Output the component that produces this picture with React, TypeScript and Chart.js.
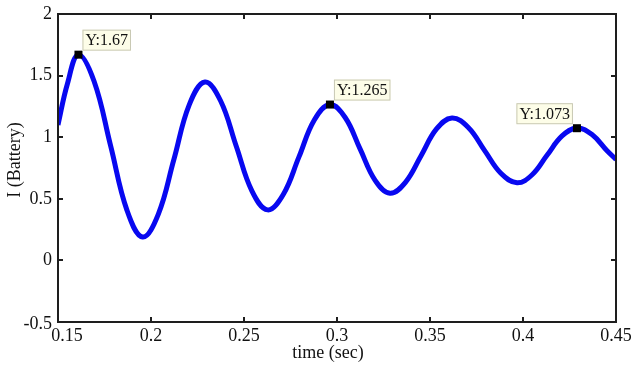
import React, { useEffect, useRef } from "react";
import { Chart, registerables } from "chart.js";

Chart.register(...registerables);

const timeSec = [
  0.15, 0.155, 0.161, 0.1694, 0.1783, 0.1871, 0.1955, 0.2039, 0.2123, 0.2206,
  0.229, 0.2374, 0.2458, 0.2543, 0.2627, 0.2711, 0.2795, 0.2878, 0.2962, 0.3044,
  0.3124, 0.3205, 0.3285, 0.3368, 0.3452, 0.3535, 0.3618, 0.3706, 0.3793, 0.3881,
  0.3968, 0.4049, 0.4129, 0.421, 0.429, 0.4371, 0.4452, 0.45,
];
const batteryCurrent = [
  1.1, 1.43, 1.67, 1.454, 0.93, 0.406, 0.19, 0.374, 0.819, 1.264,
  1.448, 1.296, 0.929, 0.562, 0.41, 0.535, 0.838, 1.14, 1.265, 1.16,
  0.905, 0.65, 0.545, 0.634, 0.85, 1.067, 1.156, 1.079, 0.893, 0.707,
  0.63, 0.695, 0.853, 1.01, 1.075, 1.021, 0.89, 0.82,
];

const xTicks = [0.15, 0.2, 0.25, 0.3, 0.35, 0.4, 0.45];
const xTickLabels = ["0.15", "0.2", "0.25", "0.3", "0.35", "0.4", "0.45"];
const yTicks = [-0.5, 0, 0.5, 1, 1.5, 2];
const yTickLabels = ["-0.5", "0", "0.5", "1", "1.5", "2"];

const tipX = [0.161, 0.2962, 0.429];
const tipY = [1.67, 1.265, 1.073];
const tipLabels = ["Y:1.67", "Y:1.265", "Y:1.073"];
const tipSide = ["right", "right", "left"];

const xTitle = "time (sec)";
const yTitle = "I (Battery)";

const SERIF = "'Liberation Serif', 'DejaVu Serif', serif";

const decorPlugin = {
  id: "decor",
  afterDatasetsDraw(chart: any) {
    const { ctx, chartArea: a, scales } = chart;
    const xs = scales.x;
    const ys = scales.y;
    ctx.save();
    ctx.strokeStyle = "#1e1e1e";
    ctx.lineWidth = 2;
    ctx.strokeRect(a.left, a.top, a.right - a.left, a.bottom - a.top);
    const tl = 5;
    ctx.beginPath();
    xTicks.forEach((v) => {
      const px = Math.round(xs.getPixelForValue(v));
      ctx.moveTo(px, a.bottom);
      ctx.lineTo(px, a.bottom - tl);
      ctx.moveTo(px, a.top);
      ctx.lineTo(px, a.top + tl);
    });
    yTicks.forEach((v) => {
      const py = Math.round(ys.getPixelForValue(v));
      ctx.moveTo(a.left, py);
      ctx.lineTo(a.left + tl, py);
      ctx.moveTo(a.right, py);
      ctx.lineTo(a.right - tl, py);
    });
    ctx.stroke();

    ctx.fillStyle = "#111";
    ctx.font = `18px ${SERIF}`;
    ctx.textBaseline = "middle";
    ctx.textAlign = "right";
    yTicks.forEach((v, i) => {
      const py = ys.getPixelForValue(v);
      ctx.fillText(yTickLabels[i], a.left - 6, i === 0 ? py + 2 : py);
    });
    ctx.textAlign = "center";
    ctx.textBaseline = "top";
    xTicks.forEach((v, i) => {
      let px = xs.getPixelForValue(v);
      if (i === 0) px += 9;
      ctx.fillText(xTickLabels[i], px, a.bottom + 5);
    });

    ctx.font = `18px ${SERIF}`;
    ctx.textBaseline = "middle";
    ctx.textAlign = "center";
    ctx.fillText(xTitle, 328, 353);
    ctx.save();
    ctx.translate(15, 160);
    ctx.rotate(-Math.PI / 2);
    ctx.fillText(yTitle, 0, 0);
    ctx.restore();
    ctx.restore();
  },
  afterDraw(chart: any) {
    const { ctx, scales } = chart;
    const xs = scales.x;
    const ys = scales.y;
    ctx.save();
    tipX.forEach((v, i) => {
      const px = xs.getPixelForValue(v);
      const py = ys.getPixelForValue(tipY[i]);
      ctx.fillStyle = "#000";
      ctx.fillRect(px - 4, py - 4, 8, 8);
      ctx.font = `16px ${SERIF}`;
      const w = ctx.measureText(tipLabels[i]).width + 6;
      const h = 21;
      const bx = tipSide[i] === "right" ? px + 4 : px - 4 - w;
      const by = py - 4 - h;
      ctx.fillStyle = "#fdfde8";
      ctx.fillRect(bx, by, w, h);
      ctx.strokeStyle = "#c9c9b4";
      ctx.lineWidth = 1;
      ctx.strokeRect(bx + 0.5, by + 0.5, w - 1, h - 1);
      ctx.fillStyle = "#111";
      ctx.textAlign = "left";
      ctx.textBaseline = "middle";
      ctx.fillText(tipLabels[i], bx + 3, by + h / 2 + 1);
    });
    ctx.restore();
  },
};

export default function App() {
  const canvasRef = useRef<HTMLCanvasElement | null>(null);

  useEffect(() => {
    document.body.style.margin = "0";
    const canvas = canvasRef.current;
    if (!canvas) return;
    const chart = new Chart(canvas, {
      type: "line",
      data: {
        datasets: [
          {
            data: timeSec.map((t, i) => ({ x: t, y: batteryCurrent[i] })),
            borderColor: "#0808f0",
            borderWidth: 5,
            pointRadius: 0,
            fill: false,
            tension: 0.4,
          },
        ],
      },
      options: {
        animation: false,
        responsive: false,
        devicePixelRatio: 1,
        layout: { padding: { top: 14, right: 24, left: 0, bottom: 0 } },
        plugins: {
          legend: { display: false },
          tooltip: { enabled: false },
        },
        events: [],
        scales: {
          x: {
            type: "linear",
            min: 0.15,
            max: 0.45,
            ticks: { display: false, stepSize: 0.05 },
            grid: { display: false },
            border: { display: false },
            afterFit: (s: any) => {
              s.height = 54;
            },
          },
          y: {
            type: "linear",
            min: -0.5,
            max: 2,
            ticks: { display: false, stepSize: 0.5 },
            grid: { display: false },
            border: { display: false },
            afterFit: (s: any) => {
              s.width = 58;
            },
          },
        },
      },
      plugins: [decorPlugin],
    });
    return () => chart.destroy();
  }, []);

  return (
    <div style={{ width: 640, height: 376, background: "#fff" }}>
      <canvas ref={canvasRef} width={640} height={376} style={{ display: "block" }} />
    </div>
  );
}
